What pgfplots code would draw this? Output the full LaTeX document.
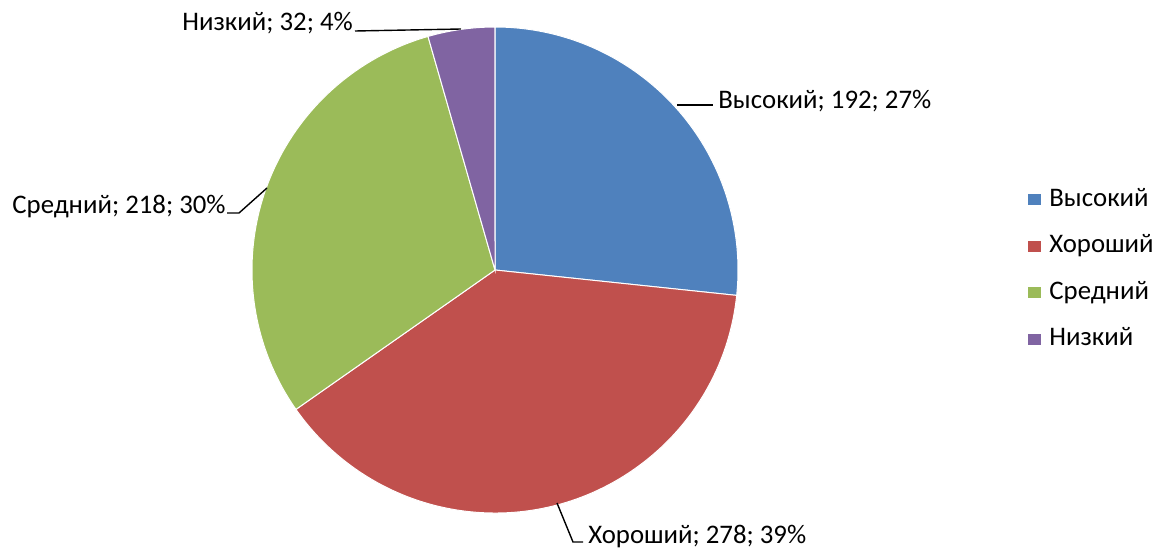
\documentclass[border=0pt]{standalone}
\usepackage{fontspec}
\setmainfont{Carlito}
\usepackage{pgfplots}
\usepackage{pgfplotstable}
\pgfplotsset{compat=1.18}

\definecolor{pie0}{HTML}{4F81BD}
\definecolor{pie1}{HTML}{C0504D}
\definecolor{pie2}{HTML}{9BBB59}
\definecolor{pie3}{HTML}{8064A2}

\pgfplotstableread{
label value
Высокий 192
Хороший 278
Средний 218
Низкий 32
}\piedata

% total of all slices
\def\pietotal{0}
\pgfplotsforeachungrouped \i in {0,...,3}{%
  \pgfplotstablegetelem{\i}{value}\of\piedata%
  \pgfmathsetmacro\pietotal{\pietotal+\pgfplotsretval}%
}

\begin{document}
\begin{tikzpicture}
\begin{axis}[
  scale only axis,
  width=578.5pt, height=274pt,
  xmin=0, xmax=1157, ymin=0, ymax=548,
  hide axis,
  clip=false,
  font=\fontsize{13.4}{16}\selectfont,
]
% slices: start at the top, clockwise, radius 243 units = 121.5pt
\def\piecur{90}
\pgfplotsforeachungrouped \i in {0,...,3}{%
  \pgfplotstablegetelem{\i}{value}\of\piedata
  \pgfmathsetmacro\piesweep{\pgfplotsretval/\pietotal*360}%
  \pgfmathsetmacro\pieend{\piecur-\piesweep}%
  \edef\doit{\noexpand\fill[pie\i, draw=white, line width=0.5pt]
    (axis cs:495,278) -- ++(\piecur:121.5pt)
    arc[start angle=\piecur, end angle=\pieend, radius=121.5pt] -- cycle;}%
  \doit
  \let\piecur\pieend
}
% leader lines
\draw[black, line width=0.7pt] (axis cs:677,443) -- (axis cs:713,443);
\draw[black, line width=0.7pt] (axis cs:557,45) -- (axis cs:573,6) -- (axis cs:583,6);
\draw[black, line width=0.7pt] (axis cs:267,360) -- (axis cs:239,335) -- (axis cs:227,335);
\draw[black, line width=0.7pt] (axis cs:461,519) -- (axis cs:355,517);
% data labels
\node[anchor=base west, inner sep=0pt] at (axis cs:718,440) {Высокий; 192; 27\%};
\node[anchor=base west, inner sep=0pt] at (axis cs:588,5) {Хороший; 278; 39\%};
\node[anchor=base west, inner sep=0pt] at (axis cs:12,335) {Средний; 218; 30\%};
\node[anchor=base west, inner sep=0pt] at (axis cs:182,517) {Низкий; 32; 4\%};
% legend
\fill[pie0] (axis cs:1028,343) rectangle (axis cs:1041,354);
\node[anchor=base west, inner sep=0pt] at (axis cs:1049,342) {Высокий};
\fill[pie1] (axis cs:1028,296.5) rectangle (axis cs:1041,307.5);
\node[anchor=base west, inner sep=0pt] at (axis cs:1049,295.5) {Хороший};
\fill[pie2] (axis cs:1028,250) rectangle (axis cs:1041,261);
\node[anchor=base west, inner sep=0pt] at (axis cs:1049,249) {Средний};
\fill[pie3] (axis cs:1028,203.5) rectangle (axis cs:1041,214.5);
\node[anchor=base west, inner sep=0pt] at (axis cs:1049,202.5) {Низкий};
\end{axis}
\pgfresetboundingbox
\useasboundingbox (current axis.south west) rectangle (current axis.north east);
\end{tikzpicture}
\end{document}
